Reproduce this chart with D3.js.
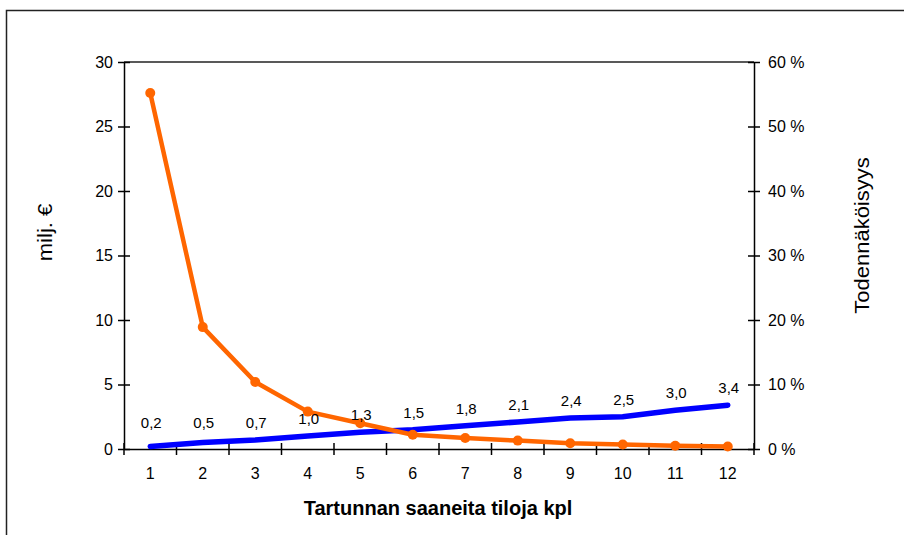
<!DOCTYPE html>
<html>
<head>
<meta charset="utf-8">
<script src="https://cdn.jsdelivr.net/npm/d3@7"></script>
<style>
  body { margin: 0; background: #fff; }
  svg { display: block; font-family: "Liberation Sans", Arial, sans-serif; }
</style>
</head>
<body>
<svg id="chart" width="904" height="535"></svg>
<script>
// Number of infected farms
const farms = [1, 2, 3, 4, 5, 6, 7, 8, 9, 10, 11, 12];
// Cost in million euros (left axis)
const costs = [0.2, 0.5, 0.7, 1.0, 1.3, 1.5, 1.8, 2.1, 2.4, 2.5, 3.0, 3.4];
// Probability in percent (right axis)
const probability = [55.2, 18.9, 10.4, 5.8, 4.0, 2.2, 1.7, 1.3, 0.9, 0.7, 0.5, 0.4];
const leftTicks = [0, 5, 10, 15, 20, 25, 30];
const rightTicks = [0, 10, 20, 30, 40, 50, 60];

const svg = d3.select("#chart");
const m = { left: 124, right: 754, top: 62, bottom: 449 };

// Outer frame
svg.append("rect")
  .attr("x", 6.5).attr("y", 10.5)
  .attr("width", 904).attr("height", 535)
  .attr("fill", "none").attr("stroke", "#222").attr("stroke-width", 1.5);

const x = d3.scaleBand().domain(farms).range([m.left, m.right]);
const yL = d3.scaleLinear().domain([0, 30]).range([m.bottom, m.top]);
const yR = d3.scaleLinear().domain([0, 60]).range([m.bottom, m.top]);

// Top border of plot area
svg.append("line")
  .attr("x1", m.left).attr("x2", m.right)
  .attr("y1", m.top).attr("y2", m.top)
  .attr("stroke", "#222").attr("stroke-width", 1.3);

function styleAxis(g) {
  g.attr("font-size", 16).attr("font-family", null);
  g.selectAll(".domain").attr("stroke", "#000").attr("stroke-width", 1.5);
  g.selectAll(".tick line").attr("stroke", "#000").attr("stroke-width", 1.5);
  g.selectAll(".tick text").attr("fill", "#000");
}

// Left axis (crossing ticks)
const gL = svg.append("g").attr("transform", `translate(${m.left},0)`)
  .call(d3.axisLeft(yL).tickValues(leftTicks).tickSize(6).tickSizeOuter(0).tickPadding(5));
gL.selectAll(".tick line").attr("x2", 6).attr("x1", -6);
styleAxis(gL);

// Right axis
const gR = svg.append("g").attr("transform", `translate(${m.right},0)`)
  .call(d3.axisRight(yR).tickValues(rightTicks).tickSize(6).tickSizeOuter(0).tickPadding(8)
    .tickFormat(d => d + " %"));
gR.selectAll(".tick line").attr("x1", -6).attr("x2", 6);
styleAxis(gR);

// Bottom axis: ticks at band boundaries, labels at band centres
const gB = svg.append("g").attr("transform", `translate(0,${m.bottom})`)
  .call(d3.axisBottom(x).tickSize(0).tickSizeOuter(0).tickPadding(19));
styleAxis(gB);
const bounds = farms.map(f => x(f)).concat([x(farms[farms.length - 1]) + x.bandwidth()]);
gB.selectAll(".bound").data(bounds).join("line")
  .attr("x1", d => d).attr("x2", d => d)
  .attr("y1", -6).attr("y2", 6)
  .attr("stroke", "#000").attr("stroke-width", 1.5);

const cx = d => x(d) + x.bandwidth() / 2;

// Cost line (blue)
svg.append("path")
  .datum(farms.map((f, i) => [cx(f), yL(costs[i])]))
  .attr("d", d3.line())
  .attr("fill", "none").attr("stroke", "#0000ff").attr("stroke-width", 5.5)
  .attr("stroke-linecap", "round");

// Probability line (orange)
svg.append("path")
  .datum(farms.map((f, i) => [cx(f), yR(probability[i])]))
  .attr("d", d3.line())
  .attr("fill", "none").attr("stroke", "#ff6600").attr("stroke-width", 4.5)
  .attr("stroke-linejoin", "round");
svg.selectAll(".pt").data(farms).join("circle")
  .attr("cx", d => cx(d)).attr("cy", (d, i) => yR(probability[i]))
  .attr("r", 5).attr("fill", "#ff6600");

// Cost value labels
svg.selectAll(".lbl").data(farms).join("text")
  .attr("x", d => cx(d) + 1).attr("y", (d, i) => Math.min(yL(costs[i]) - 12, 428))
  .attr("text-anchor", "middle").attr("font-size", 15).attr("fill", "#000")
  .text((d, i) => costs[i].toFixed(1).replace(".", ","));

// Axis titles (slightly stretched along their length)
svg.append("text")
  .attr("transform", `translate(52,${(m.top + m.bottom) / 2 - 23}) rotate(-90) scale(1.1,1)`)
  .attr("text-anchor", "middle").attr("font-size", 20).text("milj. €");
svg.append("text")
  .attr("transform", `translate(869,${(m.top + m.bottom) / 2 - 20}) rotate(-90) scale(1.1,1)`)
  .attr("text-anchor", "middle").attr("font-size", 20).text("Todennäköisyys");
svg.append("text")
  .attr("x", (m.left + m.right) / 2 - 1).attr("y", 515)
  .attr("text-anchor", "middle").attr("font-size", 20).attr("font-weight", "bold")
  .text("Tartunnan saaneita tiloja kpl");
</script>
</body>
</html>
